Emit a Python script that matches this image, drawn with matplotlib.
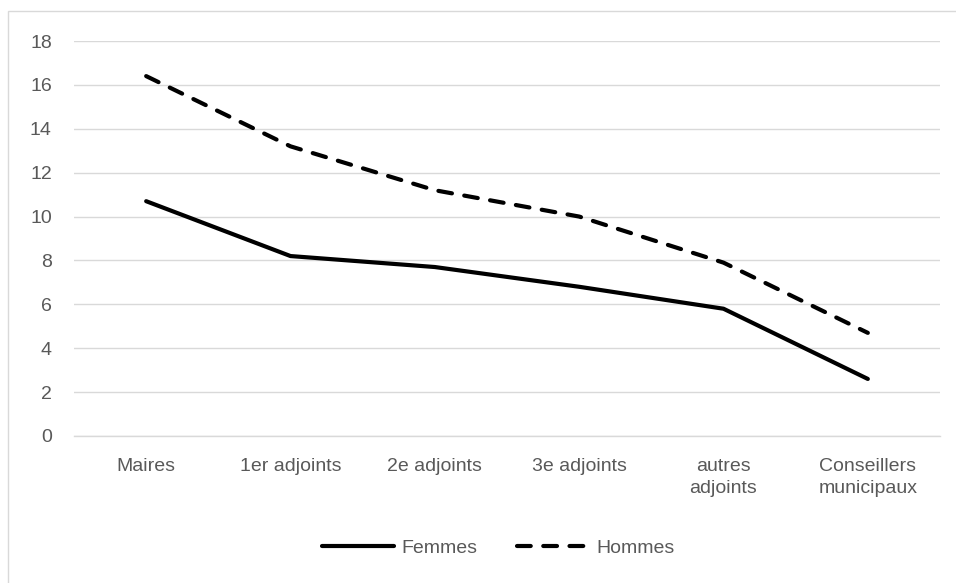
import numpy as np
import matplotlib.pyplot as plt
from matplotlib.patches import Rectangle

plt.rcParams['font.family'] = ['Liberation Sans', 'DejaVu Sans']

categories = ['Maires', '1er adjoints', '2e adjoints', '3e adjoints',
              'autres\nadjoints', 'Conseillers\nmunicipaux']
femmes = [10.7, 8.2, 7.7, 6.8, 5.8, 2.6]
hommes = [16.4, 13.2, 11.2, 10.0, 7.9, 4.7]

fig = plt.figure(figsize=(9.56, 5.83), dpi=100)
ax = fig.add_axes([74 / 956, 1 - 436 / 583, 866 / 956, 395 / 583])

x = np.arange(len(categories))
ax.plot(x, femmes, color='black', lw=3, solid_capstyle='round',
        solid_joinstyle='round', label='Femmes')
ax.plot(x, hommes, color='black', lw=3, dashes=(3.3, 3.0),
        dash_capstyle='round', label='Hommes')

ax.set_xlim(-0.5, len(categories) - 0.5)
ax.set_ylim(0, 18)
ax.set_yticks(np.arange(0, 19, 2))
ax.set_xticks(x)
ax.set_xticklabels(categories, linespacing=1.4)
ax.grid(axis='y', color='#d9d9d9', lw=1)
ax.set_axisbelow(True)
for s in ax.spines.values():
    s.set_visible(False)
ax.spines['bottom'].set_visible(True)
ax.spines['bottom'].set_color('#d9d9d9')
ax.spines['bottom'].set_linewidth(1)
ax.tick_params(length=0, labelsize=14, colors='#595959')
ax.tick_params(axis='x', pad=16)
ax.tick_params(axis='y', pad=16)

leg = ax.legend(loc='center', bbox_to_anchor=(0.49, (436 - 548) / 395),
                ncol=2, frameon=False, fontsize=14, handlelength=3.7,
                columnspacing=2.0, handletextpad=0.4)
for t in leg.get_texts():
    t.set_color('#595959')

fig.patches.append(Rectangle((8 / 956, -0.01), 1.0, 1 - 11 / 583 + 0.01,
                             transform=fig.transFigure, fill=False,
                             edgecolor='#d9d9d9', lw=1))

fig.savefig('out.png', dpi=100)
